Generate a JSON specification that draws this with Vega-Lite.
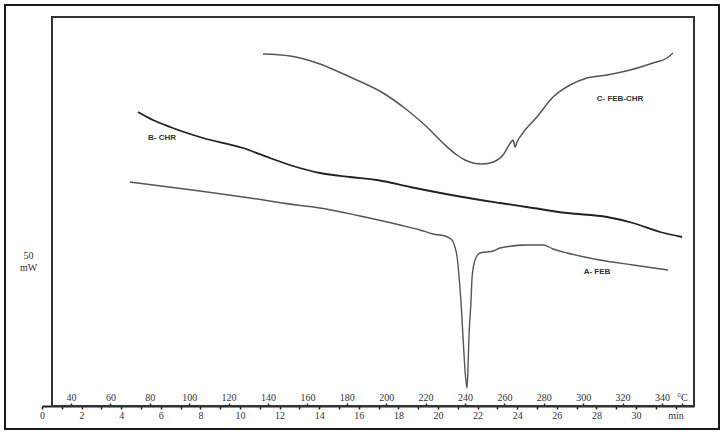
{
  "$schema": "https://vega.github.io/schema/vega-lite/v6.json",
  "width": 652,
  "height": 389,
  "autosize": "none",
  "padding": {"left": 42, "top": 17, "right": 30, "bottom": 28},
  "background": "white",
  "config": {"view": {"stroke": null}, "axis": {"grid": false}},
  "datasets": {
    "A": [
      {"T": 69.9, "h": 224}, {"T": 105.5, "h": 215}, {"T": 130.9, "h": 208}, {"T": 158.8, "h": 200},
      {"T": 161.3, "h": 199.5}, {"T": 166.4, "h": 198}, {"T": 186.7, "h": 190}, {"T": 207.0, "h": 181},
      {"T": 217.2, "h": 176}, {"T": 223.8, "h": 172}, {"T": 229.8, "h": 170}, {"T": 233.4, "h": 166},
      {"T": 234.9, "h": 159}, {"T": 236.0, "h": 149}, {"T": 237.0, "h": 129}, {"T": 238.0, "h": 103},
      {"T": 239.0, "h": 69}, {"T": 240.0, "h": 36}, {"T": 241.0, "h": 18}, {"T": 241.5, "h": 36},
      {"T": 242.0, "h": 69}, {"T": 243.0, "h": 103}, {"T": 243.6, "h": 129}, {"T": 245.1, "h": 146},
      {"T": 247.6, "h": 153}, {"T": 251.2, "h": 154}, {"T": 254.2, "h": 155}, {"T": 257.8, "h": 158},
      {"T": 271.5, "h": 161}, {"T": 279.6, "h": 161}, {"T": 284.7, "h": 157}, {"T": 291.8, "h": 153},
      {"T": 308.5, "h": 146}, {"T": 325.3, "h": 141}, {"T": 343.0, "h": 136}
    ],
    "B": [
      {"T": 74.0, "h": 294}, {"T": 81.6, "h": 286}, {"T": 90.3, "h": 279}, {"T": 107.0, "h": 268},
      {"T": 127.3, "h": 258}, {"T": 141.0, "h": 248}, {"T": 152.7, "h": 240}, {"T": 166.4, "h": 233},
      {"T": 181.6, "h": 229}, {"T": 195.3, "h": 226}, {"T": 212.1, "h": 219}, {"T": 235.9, "h": 210},
      {"T": 257.8, "h": 203}, {"T": 274.5, "h": 198}, {"T": 291.8, "h": 193}, {"T": 312.1, "h": 189},
      {"T": 325.3, "h": 183}, {"T": 339.0, "h": 174}, {"T": 350.2, "h": 169}
    ],
    "C": [
      {"T": 137.5, "h": 352}, {"T": 151.2, "h": 350}, {"T": 164.9, "h": 343}, {"T": 181.6, "h": 329},
      {"T": 198.4, "h": 313}, {"T": 210.6, "h": 296}, {"T": 220.7, "h": 279}, {"T": 228.8, "h": 263},
      {"T": 235.9, "h": 251}, {"T": 240.0, "h": 246}, {"T": 244.1, "h": 243}, {"T": 248.6, "h": 242},
      {"T": 252.7, "h": 243}, {"T": 259.3, "h": 251}, {"T": 263.4, "h": 264}, {"T": 264.4, "h": 266},
      {"T": 265.4, "h": 259}, {"T": 266.4, "h": 264}, {"T": 269.4, "h": 273}, {"T": 276.5, "h": 289},
      {"T": 284.7, "h": 309}, {"T": 293.3, "h": 321}, {"T": 301.9, "h": 328}, {"T": 312.1, "h": 331},
      {"T": 323.8, "h": 336}, {"T": 335.4, "h": 343}, {"T": 342.5, "h": 348}, {"T": 345.6, "h": 353}
    ],
    "labels": [
      {"T": 86.2, "h": 268, "text": "B- CHR"},
      {"T": 318.7, "h": 307, "text": "C- FEB-CHR"},
      {"T": 307.0, "h": 134, "text": "A- FEB"}
    ],
    "frames": [
      {"name": "inner", "x1": 30.36, "x2": 356.24, "y1": 389, "y2": 0}
    ],
    "border": [
      {"name": "outer", "x1": 6.5, "x2": 368.93, "y1": 401, "y2": -23}
    ],
    "timeaxis": [{"t": 0}, {"t": 32.93}]
  },
  "resolve": {"scale": {"x": "independent"}, "axis": {"x": "independent"}},
  "layer": [
    {
      "layer": [
        {
          "data": {"name": "A"},
          "mark": {"type": "line", "color": "#555555", "strokeWidth": 1.4, "interpolate": "monotone", "strokeJoin": "round"},
          "encoding": {
            "x": {
              "field": "T", "type": "quantitative",
              "scale": {"domain": [25.28, 356.24], "nice": false, "zero": false},
              "axis": {
                "orient": "top", "offset": -389, "title": null, "domain": false,
                "values": [40, 60, 80, 100, 120, 140, 160, 180, 200, 220, 240, 260, 280, 300, 320, 340, 350],
                "labelExpr": "datum.value == 350 ? '°C' : datum.label",
                "labelOverlap": false, "labelFlush": false,
                "labelFont": "Liberation Serif", "labelFontSize": 10, "labelColor": "#333333",
                "labelPadding": 1, "tickSize": 3, "tickColor": "#222222", "tickWidth": 1.5
              }
            },
            "y": {
              "field": "h", "type": "quantitative",
              "scale": {"domain": [0, 389], "nice": false, "zero": false},
              "axis": {
                "orient": "left", "domain": false, "ticks": false, "labels": false,
                "title": ["50", "mW"], "titleAngle": 0, "titleFont": "Liberation Serif",
                "titleFontSize": 10, "titleFontWeight": "normal", "titleColor": "#333333",
                "titleAlign": "center", "titleBaseline": "alphabetic", "titleLineHeight": 12,
                "titleX": -14, "titleY": 241
              }
            }
          }
        },
        {
          "data": {"name": "B"},
          "mark": {"type": "line", "color": "#222222", "strokeWidth": 1.8, "interpolate": "monotone", "strokeJoin": "round"},
          "encoding": {
            "x": {"field": "T", "type": "quantitative"},
            "y": {"field": "h", "type": "quantitative"}
          }
        },
        {
          "data": {"name": "C"},
          "mark": {"type": "line", "color": "#555555", "strokeWidth": 1.5, "interpolate": "monotone", "strokeJoin": "round"},
          "encoding": {
            "x": {"field": "T", "type": "quantitative"},
            "y": {"field": "h", "type": "quantitative"}
          }
        },
        {
          "data": {"name": "labels"},
          "mark": {"type": "text", "font": "Liberation Sans", "fontSize": 8, "fontWeight": "bold", "color": "#333333", "align": "center", "baseline": "middle"},
          "encoding": {
            "x": {"field": "T", "type": "quantitative"},
            "y": {"field": "h", "type": "quantitative"},
            "text": {"field": "text"}
          }
        },
        {
          "data": {"name": "frames"},
          "mark": {"type": "rect", "fill": null, "stroke": "#333333", "strokeWidth": 2},
          "encoding": {
            "x": {"field": "x1", "type": "quantitative"},
            "x2": {"field": "x2"},
            "y": {"field": "y1", "type": "quantitative"},
            "y2": {"field": "y2"}
          }
        },
        {
          "data": {"name": "border"},
          "mark": {"type": "rect", "fill": null, "stroke": "#1a1a1a", "strokeWidth": 2},
          "encoding": {
            "x": {"field": "x1", "type": "quantitative"},
            "x2": {"field": "x2"},
            "y": {"field": "y1", "type": "quantitative"},
            "y2": {"field": "y2"}
          }
        }
      ]
    },
    {
      "data": {"name": "timeaxis"},
      "mark": {"type": "point", "opacity": 0},
      "encoding": {
        "x": {
          "field": "t", "type": "quantitative",
          "scale": {"domain": [0, 32.93], "nice": false, "zero": false},
          "axis": {
            "orient": "bottom", "title": null,
            "values": [0, 1, 2, 3, 4, 5, 6, 7, 8, 9, 10, 11, 12, 13, 14, 15, 16, 17, 18, 19, 20, 21, 22, 23, 24, 25, 26, 27, 28, 29, 30, 31, 32],
            "labelExpr": "datum.value == 32 ? 'min' : (datum.value % 2 == 0 ? datum.label : '')",
            "labelOverlap": false, "labelFlush": false,
            "labelFont": "Liberation Serif", "labelFontSize": 10, "labelColor": "#333333",
            "labelPadding": 1, "tickSize": 3, "tickColor": "#222222", "tickWidth": 1.5,
            "domainColor": "#222222", "domainWidth": 2
          }
        }
      }
    }
  ]
}
